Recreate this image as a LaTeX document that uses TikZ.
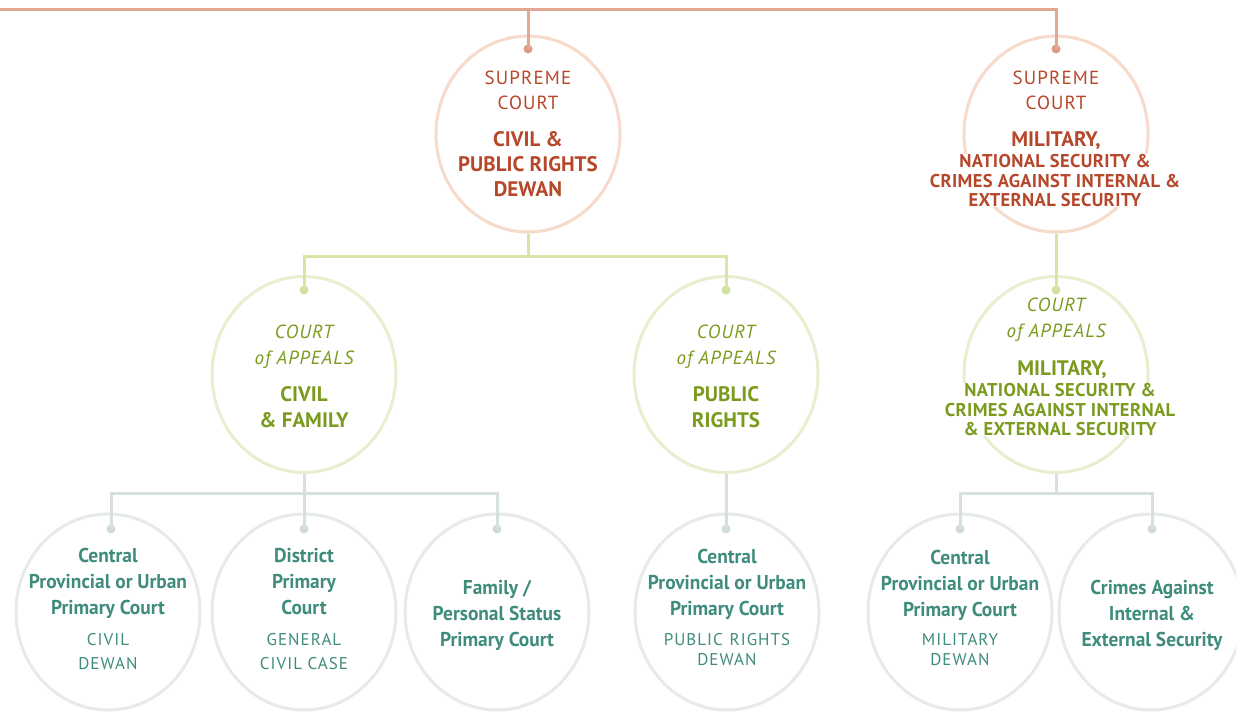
\documentclass[tikz,border=0pt]{standalone}
\usepackage{fontspec}
\setmainfont{PT Sans}
\newfontfamily\capsp{PT Sans}[LetterSpace=6]
\newfontfamily\smallsp{PT Sans}[LetterSpace=2]
\newfontfamily\narrowf{PT Sans}[FakeStretch=0.97]
\usetikzlibrary{shapes.geometric}
\definecolor{supL}{HTML}{E2A893}
\definecolor{supD}{HTML}{DB9C86}
\definecolor{supC}{HTML}{F6DACA}
\definecolor{supT}{HTML}{B6472A}
\definecolor{appL}{HTML}{D5E6A6}
\definecolor{appD}{HTML}{CFE2A0}
\definecolor{appC}{HTML}{E7EFCF}
\definecolor{appT}{HTML}{7B9B1E}
\definecolor{botL}{HTML}{D6E1DD}
\definecolor{botD}{HTML}{CFDCD7}
\definecolor{botC}{HTML}{E6EBE8}
\definecolor{botT}{HTML}{3F8C7D}
\begin{document}
\begin{tikzpicture}[x=1pt,y=-1pt,
  ring/.style={ellipse, draw, line width=3pt, minimum width=184pt, minimum height=196pt, inner sep=0pt},
  supring/.style={ring, draw=supC},
  appring/.style={ring, draw=appC},
  botring/.style={ring, draw=botC},
  dot/.style={circle, inner sep=0pt, minimum size=9pt},
  conn/.style={line width=3pt},
  tx/.style={align=center, inner sep=0pt, anchor=north},
  suphead/.style={tx, text=supT, font=\capsp\fontsize{19}{25}\selectfont},
  supbody/.style={tx, text=supT, font=\bfseries\fontsize{21}{25}\selectfont},
  supsmall/.style={tx, text=supT, fill=white, font=\smallsp\bfseries\fontsize{18.5}{19.6}\selectfont},
  apphead/.style={tx, text=appT, font=\capsp\itshape\fontsize{19}{26}\selectfont},
  appbody/.style={tx, text=appT, font=\bfseries\fontsize{21}{25.5}\selectfont},
  appsmall/.style={tx, text=appT, fill=white, font=\smallsp\bfseries\fontsize{18.5}{19.6}\selectfont},
  botbody/.style={tx, text=botT, font=\narrowf\bfseries\fontsize{20}{25.8}\selectfont},
  botsub/.style={tx, text=botT, font=\capsp\fontsize{17}{24.5}\selectfont},
  botsubb/.style={tx, text=botT, font=\capsp\fontsize{17}{20}\selectfont}]
\useasboundingbox[fill=white] (0,0) rectangle (1236,713);
% rings
\node[supring] (s1) at (528,134) {};
\node[supring] (s2) at (1056,134) {};
\node[appring] (a1) at (304,374.5) {};
\node[appring] (a2) at (726,374.5) {};
\node[appring] (a3) at (1056,374.5) {};
\node[botring] (b1) at (108,612) {};
\node[botring] (b2) at (304,612) {};
\node[botring] (b3) at (497,612) {};
\node[botring] (b4) at (727,612) {};
\node[botring] (b5) at (960,612) {};
\node[botring] (b6) at (1151,612) {};
% dots
\node[dot, fill=supD] (d1) at (528,49) {};
\node[dot, fill=supD] (d2) at (1056,49) {};
\node[dot, fill=appD] (ga) at (304,290) {};
\node[dot, fill=appD] (gb) at (726,290) {};
\node[dot, fill=appD] (gc) at (1056,290) {};
\node[dot, fill=botD] (ta) at (111,529) {};
\node[dot, fill=botD] (tb) at (304,529) {};
\node[dot, fill=botD] (tc) at (497,529) {};
\node[dot, fill=botD] (td) at (726,529) {};
\node[dot, fill=botD] (te) at (960,529) {};
\node[dot, fill=botD] (tf) at (1152,529) {};
% connectors
\coordinate (tl) at (0,9);
\coordinate (gbar) at (0,256);
\coordinate (tbar) at (0,493);
\draw[conn, draw=supL] (tl) -| (d2.center);
\draw[conn, draw=supL] (d1 |- tl) -- (d1.center);
\draw[conn, draw=appL] (s1.south) -- (s1.south |- gbar) -| (ga.center);
\draw[conn, draw=appL] (s1.south |- gbar) -| (gb.center);
\draw[conn, draw=appL] (s2.south) -- (gc.center);
\draw[conn, draw=botL] (a1.south) -- (a1.south |- tbar) -| (ta.center);
\draw[conn, draw=botL] (a1.south |- tbar) -| (tc.center);
\draw[conn, draw=botL] (a1.south) -- (tb.center);
\draw[conn, draw=botL] (a2.south) -- (td.center);
\draw[conn, draw=botL] (a3.south) -- (a3.south |- tbar) -| (te.center);
\draw[conn, draw=botL] (a3.south |- tbar) -| (tf.center);
% texts: supreme
\node[suphead] (s1h) at (528,70.5) {SUPREME\\COURT};
\node[supbody] (s1b) at (528,131) {CIVIL \&\\PUBLIC RIGHTS\\DEWAN};
\node[suphead] (s2h) at (1056,70.5) {SUPREME\\COURT};
\node[supbody, fill=white] (s2b) at (1056,131) {MILITARY,};
\node[supsmall] (s2c) at (1055,154) {NATIONAL SECURITY \&\\CRIMES AGAINST INTERNAL \&\\EXTERNAL SECURITY};
% texts: appeals
\node[apphead] (a1h) at (304,325) {COURT\\of APPEALS};
\node[appbody] (a1b) at (304,386.5) {CIVIL\\\& FAMILY};
\node[apphead] (a2h) at (726,325) {COURT\\of APPEALS};
\node[appbody] (a2b) at (726,386.5) {PUBLIC\\RIGHTS};
\node[apphead] (a3h) at (1056,298) {COURT\\of APPEALS};
\node[appbody, fill=white] (a3b) at (1062,360) {MILITARY,};
\node[appsmall] (a3c) at (1060,383) {NATIONAL SECURITY \&\\CRIMES AGAINST INTERNAL\\\& EXTERNAL SECURITY};
% texts: primary
\node[botbody] (b1t) at (108,548) {Central\\Provincial or Urban\\Primary Court};
\node[botsub] (b1s) at (108,632.7) {CIVIL\\DEWAN};
\node[botbody] (b2t) at (304,548) {District\\Primary\\Court};
\node[botsub] (b2s) at (304,632.7) {GENERAL\\CIVIL CASE};
\node[botbody] (b3t) at (497,580) {Family /\\Personal Status\\Primary Court};
\node[botbody] (b4t) at (727,549.5) {Central\\Provincial or Urban\\Primary Court};
\node[botsubb] (b4s) at (727,632.7) {PUBLIC\hspace{0.4em}RIGHTS\\DEWAN};
\node[botbody] (b5t) at (960,550) {Central\\Provincial or Urban\\Primary Court};
\node[botsubb] (b5s) at (960,632.7) {MILITARY\\DEWAN};
\node[botbody] (b6t) at (1152,580) {Crimes Against\\Internal \&\\External Security};
\end{tikzpicture}
\end{document}
